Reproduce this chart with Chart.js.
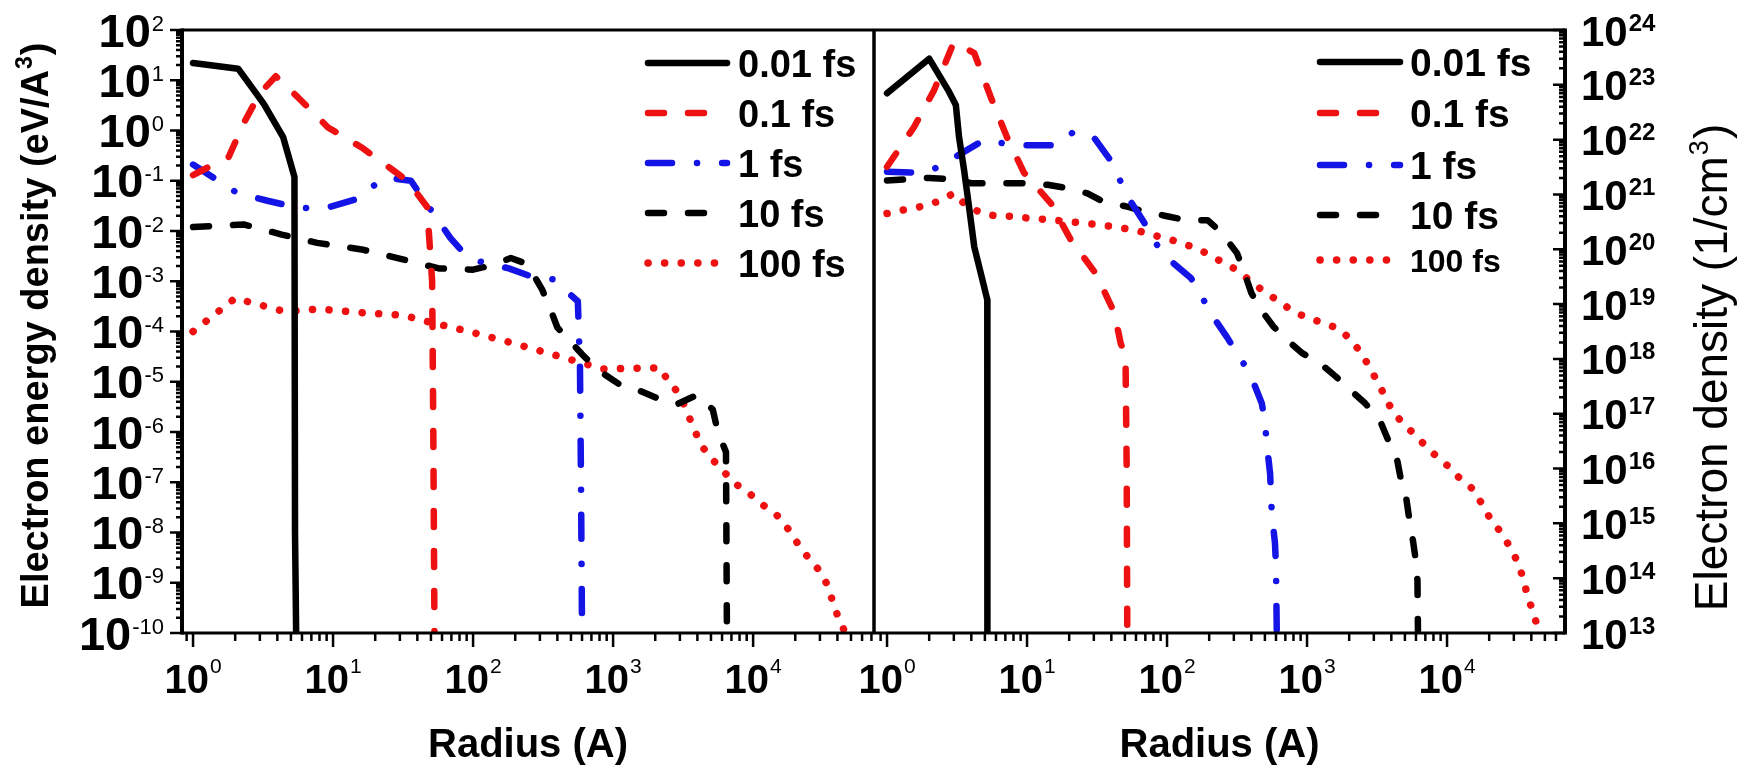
<!DOCTYPE html>
<html>
<head>
<meta charset="utf-8">
<title>Electron energy density and electron density vs radius</title>
<script src="https://cdn.jsdelivr.net/npm/chart.js@4.4.0/dist/chart.umd.min.js"></script>
<style>
  html, body { margin: 0; padding: 0; background: #fff; }
  body { width: 1744px; height: 771px; position: relative; overflow: hidden; }
  canvas { position: absolute; top: 0; }
  #chart-left { left: 0; }
  #chart-right { left: 854px; }
</style>
</head>
<body>
<canvas id="chart-left" width="900" height="771"></canvas>
<canvas id="chart-right" width="890" height="771"></canvas>
<script>
// series names
const timeLabels = ["0.01 fs", "0.1 fs", "1 fs", "10 fs", "100 fs"];

// left panel: electron energy density (eV/A^3) against radius (A)
const rE001 = [1, 2.1, 3.2, 4.4, 5.3, 5.35, 5.45];
const eE001 = [22, 17, 3.4, 0.74, 0.12, 1e-8, 1e-10];
const rE01 = [1, 1.8, 2.3, 3, 3.9, 5.6, 9.2, 16, 27, 34, 47, 51, 52, 53];
const eE01 = [0.13, 0.3, 1.4, 5.5, 12, 4.6, 1.15, 0.46, 0.16, 0.1, 0.03, 1e-3, 1e-6, 1e-10];
const rE1 = [1, 1.6, 2.05, 3.4, 5.6, 8.7, 15, 18, 24, 36, 45, 69, 87, 110, 180, 270, 370, 560, 580, 590, 600];
const eE1 = [0.21, 0.09, 0.058, 0.04, 0.029, 0.028, 0.044, 0.069, 0.115, 0.1, 0.04, 0.0072, 0.0035, 0.0025, 0.0018, 0.0012, 0.0011, 4e-4, 2e-5, 1e-7, 1e-10];
const rE10 = [1, 2.3, 4.3, 7.7, 16, 32, 57, 100, 138, 186, 244, 310, 355, 400, 550, 620, 810, 1120, 1480, 2180, 2880, 4000, 5150, 5600, 6400, 6500];
const eE10 = [0.012, 0.0135, 0.0085, 0.0058, 0.0043, 0.0027, 0.0018, 0.0017, 0.0021, 0.0029, 0.0022, 7e-4, 2.9e-4, 1.2e-4, 4.6e-5, 3.2e-5, 1.6e-5, 8.7e-6, 7e-6, 4.4e-6, 3.6e-6, 5.5e-6, 2.8e-6, 1e-6, 4e-7, 1e-10];
const rE100 = [1, 2, 4.5, 8, 15, 32, 42, 94, 214, 510, 850, 2170, 2440, 3000, 3370, 4200, 4900, 6000, 7200, 9200, 11800, 14800, 17900, 21000, 24700, 30000, 34700, 37500, 41700, 45600];
const eE100 = [1e-4, 4.6e-4, 2.5e-4, 2.8e-4, 2.4e-4, 2.1e-4, 1.7e-4, 1e-4, 5.4e-5, 2.7e-5, 1.8e-5, 1.9e-5, 1.1e-5, 5.5e-6, 2.5e-6, 5.8e-7, 3.2e-7, 1.8e-7, 1e-7, 6.3e-8, 3.5e-8, 2.2e-8, 1.15e-8, 5.8e-9, 3.2e-9, 1.7e-9, 8e-10, 3.6e-10, 1.7e-10, 1e-10];

// right panel: electron density (1/cm^3) against radius (A)
const rN001 = [1, 2, 2.77, 3.1, 3.27, 3.55, 3.85, 4.2, 4.67, 5.2, 5.21];
const nN001 = [7e22, 3e23, 7.5e22, 4.3e22, 1.1e22, 2.8e21, 6e20, 1.1e20, 3.7e19, 1.2e19, 1e13];
const rN01 = [1, 1.56, 2.17, 3, 4.2, 5.5, 7.2, 9.5, 14.8, 20.5, 31, 42, 46.7, 50.5, 51.5, 52];
const nN01 = [3.2e21, 1.7e22, 8e22, 6e23, 3.8e23, 6e22, 1.1e22, 2.5e21, 6.9e20, 1.5e20, 3.6e19, 7e18, 1.9e18, 1.2e18, 1e16, 1e13];
const rN1 = [1, 1.65, 2.1, 2.85, 4.9, 6.9, 9, 15.5, 21.7, 30, 40, 46.7, 54, 69, 81, 100, 148, 174, 205, 268, 320, 390, 475, 500, 515, 545, 560, 590, 600, 608];
const nN1 = [2.6e21, 2.5e21, 2.8e21, 4.3e21, 9.8e21, 8.5e21, 7.9e21, 7.9e21, 1.4e22, 1.1e22, 4e21, 1.7e21, 8e20, 3e20, 1.4e20, 7e19, 3e19, 1.5e19, 6.8e18, 2.5e18, 1.2e18, 5.5e17, 1.55e17, 7.2e16, 2.9e16, 8e15, 1.5e15, 4.4e14, 1.7e14, 1e13];
const rN10 = [1, 2, 3, 4, 9, 14, 19.5, 27, 35, 52, 69, 100, 138, 195, 245, 316, 355, 400, 470, 575, 720, 930, 1240, 1600, 2040, 2600, 3300, 3800, 4400, 4700, 5100, 5400, 5700, 6000, 6150, 6200];
const nN10 = [1.8e21, 2e21, 1.9e21, 1.6e21, 1.6e21, 1.5e21, 1.3e21, 1.05e21, 7.4e20, 6e20, 4.9e20, 4e20, 3.4e20, 3.4e20, 2e20, 8.5e19, 3.9e19, 1.6e19, 7.8e18, 3.9e18, 2.2e18, 1.26e18, 8.3e17, 4.8e17, 2.7e17, 1.55e17, 7.8e16, 3.3e16, 1.45e16, 6e15, 3e15, 1.1e15, 5e14, 2e14, 9e13, 1e13];
const rN100 = [1, 1.3, 1.74, 2.3, 3, 3.65, 4.7, 6.1, 8.1, 10.9, 14.4, 19.3, 26, 34.5, 45, 61, 81, 106, 139, 182, 235, 300, 370, 478, 605, 775, 1020, 1340, 1730, 2140, 2530, 2900, 3330, 3800, 4370, 5300, 6400, 7950, 10000, 12000, 15000, 17700, 20300, 24000, 28200, 32300, 35200, 37700, 41500, 45000];
const nN100 = [4.5e20, 5.2e20, 6e20, 7.4e20, 1.05e21, 6.4e20, 4.6e20, 4e20, 4e20, 3.6e20, 3.5e20, 3.2e20, 3e20, 2.75e20, 2.5e20, 2.2e20, 1.8e20, 1.5e20, 1.2e20, 9e19, 6.3e19, 4.5e19, 3e19, 1.8e19, 1.2e19, 7.7e18, 5.5e18, 4.5e18, 3.4e18, 2e18, 1.1e18, 5.9e17, 3.1e17, 1.55e17, 8.9e16, 5.4e16, 3.3e16, 1.9e16, 1.15e16, 7.1e15, 4.4e15, 2.3e15, 1.23e15, 7.1e14, 3.7e14, 1.86e14, 9.3e13, 4.6e13, 2.3e13, 1.1e13];

// tick decades
const xDecades = [0, 1, 2, 3, 4];
const yDecadesLeft = [-10, -9, -8, -7, -6, -5, -4, -3, -2, -1, 0, 1, 2];
const yDecadesRight = [13, 14, 15, 16, 17, 18, 19, 20, 21, 22, 23, 24];

// line styles, one per series
const lineColors = ["#000000", "#ee1111", "#1414e6", "#000000", "#ee1111"];
const lineDashes = [[], [16, 24], [24, 25, 0.1, 25], [16, 24], [0.1, 16.5]];
const lineWidths = [6.5, 6.5, 6.5, 6.5, 7.5];

const FONT = '"Liberation Sans", Arial, Helvetica, sans-serif';

function powLabel(ctx, x, y, exp, o) {
  ctx.font = "bold " + o.size + "px " + FONT;
  const wb = ctx.measureText("10").width;
  ctx.font = o.supWeight + " " + o.supSize + "px " + FONT;
  const we = ctx.measureText(String(exp)).width;
  const total = wb + 1 + we;
  let x0 = x;
  if (o.align === "right") x0 = x - total;
  else if (o.align === "center") x0 = x - total / 2;
  ctx.textAlign = "left";
  ctx.textBaseline = "alphabetic";
  ctx.font = "bold " + o.size + "px " + FONT;
  ctx.fillText("10", x0, y);
  ctx.font = o.supWeight + " " + o.supSize + "px " + FONT;
  ctx.fillText(String(exp), x0 + wb + 1, y - o.rise);
}

// text with one superscript, centred on (cx, baseline) along the current x direction
function supTitle(ctx, cx, base, parts, size, supSize, weight) {
  ctx.font = weight + " " + size + "px " + FONT;
  const w1 = ctx.measureText(parts[0]).width;
  const w3 = ctx.measureText(parts[2]).width;
  ctx.font = weight + " " + supSize + "px " + FONT;
  const w2 = ctx.measureText(parts[1]).width;
  let x = cx - (w1 + w2 + w3 + 2) / 2;
  ctx.textAlign = "left";
  ctx.textBaseline = "alphabetic";
  ctx.font = weight + " " + size + "px " + FONT;
  ctx.fillText(parts[0], x, base);
  x += w1 + 1;
  ctx.font = weight + " " + supSize + "px " + FONT;
  ctx.fillText(parts[1], x, base - size * 0.42);
  x += w2 + 1;
  ctx.font = weight + " " + size + "px " + FONT;
  ctx.fillText(parts[2], x, base);
}

const decor = {
  id: "decor",
  afterDraw(chart, args, o) {
    const ctx = chart.ctx;
    const a = chart.chartArea;
    const xs = chart.scales.x, ys = chart.scales.y;
    ctx.save();
    ctx.strokeStyle = "#000";
    ctx.fillStyle = "#000";
    ctx.lineCap = "butt";
    ctx.setLineDash([]);

    // frame
    ctx.lineWidth = 3;
    ctx.beginPath();
    ctx.moveTo(a.left, a.top); ctx.lineTo(a.right, a.top);
    ctx.moveTo(a.left, a.bottom); ctx.lineTo(a.right, a.bottom);
    if (o.side === "left") { ctx.moveTo(a.right, a.top); ctx.lineTo(a.right, a.bottom); }
    else { ctx.moveTo(a.left, a.top); ctx.lineTo(a.left, a.bottom); }
    ctx.stroke();
    ctx.lineWidth = 4;
    ctx.beginPath();
    const ax = o.side === "left" ? a.left : a.right;
    ctx.moveTo(ax, a.top - 1.5); ctx.lineTo(ax, a.bottom + 1.5);
    ctx.stroke();

    // x ticks (outward, below)
    ctx.lineWidth = 2.5;
    ctx.beginPath();
    for (let k = -1; k <= 4; k++) {
      for (let m = 1; m <= 9; m++) {
        const v = m * Math.pow(10, k);
        if (v < xs.min || v > xs.max) continue;
        const px = xs.getPixelForValue(v);
        ctx.moveTo(px, a.bottom);
        ctx.lineTo(px, a.bottom + (m === 1 ? 14 : 8));
      }
    }
    // y ticks
    const decs = o.side === "left" ? yDecadesLeft : yDecadesRight;
    for (let i = 0; i < decs.length; i++) {
      const k = decs[i];
      for (let m = 1; m <= 9; m++) {
        if (i === decs.length - 1 && m > 1) break;
        const py = ys.getPixelForValue(m * Math.pow(10, k));
        const len = m === 1 ? 12 : 6;
        if (o.side === "left") { ctx.moveTo(a.left - len, py); ctx.lineTo(a.left, py); }
        else { ctx.moveTo(a.right - len, py); ctx.lineTo(a.right, py); }
      }
    }
    ctx.stroke();

    // x tick labels
    xDecades.forEach(k => {
      const px = xs.getPixelForValue(Math.pow(10, k));
      powLabel(ctx, px, 693, k, { size: 40, supSize: 21, supWeight: "normal", rise: 20, align: "center" });
    });
    // y tick labels
    decs.forEach(k => {
      const py = ys.getPixelForValue(Math.pow(10, k));
      if (o.side === "left") {
        powLabel(ctx, 164, py + 16.5, k, { size: 47, supSize: 22, supWeight: "normal", rise: 16, align: "right" });
      } else {
        powLabel(ctx, a.right + 16, py + 15.5, k, { size: 42, supSize: 24, supWeight: "bold", rise: 15, align: "left" });
      }
    });

    // x title
    ctx.font = "bold 40px " + FONT;
    ctx.textAlign = "center";
    ctx.textBaseline = "alphabetic";
    ctx.fillText("Radius (A)", (a.left + a.right) / 2, 757);

    // y title
    ctx.save();
    if (o.side === "left") {
      ctx.translate(48, (a.top + a.bottom) / 2 - 6);
      ctx.rotate(-Math.PI / 2);
      supTitle(ctx, 0, 0, ["Electron energy density (eV/A", "3", ")"], 38, 23, "bold");
    } else {
      ctx.translate(a.right + 162, (a.top + a.bottom) / 2 + 36);
      ctx.rotate(-Math.PI / 2);
      supTitle(ctx, 0, 0, ["Electron density (1/cm", "3", ")"], 46, 27, "normal");
    }
    ctx.restore();

    // legend
    chart.data.datasets.forEach((ds, i) => {
      const y = o.legend.rows[i];
      ctx.save();
      ctx.strokeStyle = ds.borderColor;
      ctx.lineWidth = ds.borderWidth;
      ctx.lineCap = "round";
      ctx.setLineDash(ds.borderDash);
      ctx.beginPath();
      ctx.moveTo(o.legend.x0, y);
      ctx.lineTo(o.legend.x1, y);
      ctx.stroke();
      ctx.restore();
      const fs = o.legend.sizes[i];
      ctx.font = "bold " + fs + "px " + FONT;
      ctx.textAlign = "left";
      ctx.textBaseline = "alphabetic";
      ctx.fillText(ds.label, o.legend.tx, y + fs * 0.36);
    });
    ctx.restore();
  }
};

function makeChart(id, series, xRange, yRange, deco) {
  return new Chart(document.getElementById(id), {
    type: "line",
    data: {
      datasets: series.map((s, i) => ({
        label: timeLabels[i],
        data: s[0].map((r, j) => ({ x: r, y: s[1][j] })),
        borderColor: lineColors[i],
        borderWidth: lineWidths[i],
        borderDash: lineDashes[i],
        borderCapStyle: "round",
        borderJoinStyle: "round",
        pointRadius: 0,
        tension: 0,
        fill: false
      }))
    },
    options: {
      responsive: false,
      animation: false,
      events: [],
      layout: { padding: deco.pad },
      scales: {
        x: { type: "logarithmic", display: false, min: xRange[0], max: xRange[1] },
        y: { type: "logarithmic", display: false, min: yRange[0], max: yRange[1] }
      },
      plugins: { legend: { display: false }, tooltip: { enabled: false }, decor: deco }
    },
    plugins: [decor]
  });
}

makeChart("chart-left",
  [[rE001, eE001], [rE01, eE01], [rE1, eE1], [rE10, eE10], [rE100, eE100]],
  [0.834, 73000], [1e-10, 100],
  { side: "left", pad: { left: 182, right: 26, top: 30, bottom: 138 },
    legend: { x0: 648, x1: 727, tx: 738, rows: [63, 113, 163, 213, 263], sizes: [38, 38, 38, 38, 38] } });

makeChart("chart-right",
  [[rN001, nN001], [rN01, nN01], [rN1, nN1], [rN10, nN10], [rN100, nN100]],
  [0.807, 69600], [1e13, 1e24],
  { side: "right", pad: { left: 20, right: 179, top: 30, bottom: 138 },
    legend: { x0: 1320 - 854, x1: 1400 - 854, tx: 1410 - 854, rows: [62, 113, 165, 215, 260], sizes: [39, 39, 39, 39, 32] } });
</script>
</body>
</html>
